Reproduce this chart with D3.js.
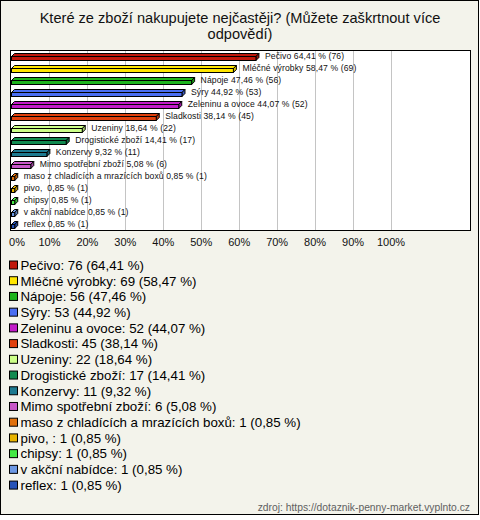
<!DOCTYPE html>
<html><head><meta charset="utf-8">
<script src="https://cdn.jsdelivr.net/npm/d3@7/dist/d3.min.js"></script>
<style>
html,body{margin:0;padding:0;background:#fff;}
svg text{font-family:"Liberation Sans",Arial,sans-serif;white-space:pre;}
</style></head>
<body><svg id="c" width="480" height="520"></svg>
<script>
const titleLines = ["Které ze zboží nakupujete nejčastěji? (Můžete zaškrtnout více", "odpovědí)"];
const categories = ["Pečivo","Mléčné výrobky","Nápoje","Sýry","Zeleninu a ovoce","Sladkosti","Uzeniny","Drogistické zboží","Konzervy","Mimo spotřební zboží","maso z chladících a mrazících boxů","pivo, ","chipsy","v akční nabídce","reflex"];
const counts = [76,69,56,53,52,45,22,17,11,6,1,1,1,1,1];
const percents = [64.41,58.47,47.46,44.92,44.07,38.14,18.64,14.41,9.32,5.08,0.85,0.85,0.85,0.85,0.85];
const colors = ["#c0180c","#ffe600","#1db41d","#4a6ef2","#c21cc8","#e0400c","#ccff88","#118a50","#1d7a90","#c858c8","#e0700c","#e8b400","#44e844","#6c98e4","#2552b8"];
const tickValues = [0,10,20,30,40,50,60,70,80,90,100];
const sourceText = "zdroj: https://dotaznik-penny-market.vyplnto.cz";

const svg = d3.select("#c");
const data = categories.map((c,i)=>({cat:c,count:counts[i],pct:percents[i],color:colors[i]}));
const fmt = v => v.toFixed(2).replace(".", ",");

// frame
svg.append("rect").attr("x",0.5).attr("y",0.5).attr("width",478).attr("height",514)
  .attr("fill","#f3f3eb").attr("stroke","#000");

// title
const t = svg.append("text").attr("x",240).attr("text-anchor","middle").attr("font-size",14.6).attr("fill","#111");
titleLines.forEach((l,i)=>t.append("tspan").attr("x",240).attr("y",23+i*15.5).text(l));

// plot
const plot = {l:10.5,t:50.5,r:470.5,b:230.5};
svg.append("rect").attr("x",plot.l).attr("y",plot.t).attr("width",plot.r-plot.l).attr("height",plot.b-plot.t).attr("fill","#fff");
const x = d3.scaleLinear().domain([0,100]).range([11.5,391]);
const y = d3.scaleBand().domain(categories).range([51,231]).padding(0);

svg.append("g").selectAll("line").data(tickValues.filter(v=>v>0)).join("line")
  .attr("x1",d=>Math.round(x(d))+0.5).attr("x2",d=>Math.round(x(d))+0.5)
  .attr("y1",plot.t).attr("y2",plot.b).attr("stroke","#c4c4c4");

svg.append("rect").attr("x",plot.l).attr("y",plot.t).attr("width",plot.r-plot.l).attr("height",plot.b-plot.t)
  .attr("fill","none").attr("stroke","#000");

const dpt = 3;
const bars = svg.append("g").selectAll("g").data(data).join("g");
bars.each(function(d){
  const g = d3.select(this);
  const x0 = x(0), x1 = x(d.pct);
  const c = y(d.cat)+y.bandwidth()/2;
  const yt = c-0.5, yb = c+3.5;
  const dark = d3.color(d.color).darker(0.6);
  g.append("polygon").attr("points",[[x0,yt],[x0+dpt,yt-dpt],[x1+dpt,yt-dpt],[x1,yt]].join(" "))
    .attr("fill",d.color).attr("stroke","#000").attr("stroke-width",1).attr("stroke-linejoin","round");
  g.append("polygon").attr("points",[[x1,yt],[x1+dpt,yt-dpt],[x1+dpt,yb-dpt],[x1,yb]].join(" "))
    .attr("fill",dark).attr("stroke","#000").attr("stroke-width",1).attr("stroke-linejoin","round");
  g.append("rect").attr("x",x0).attr("y",yt).attr("width",x1-x0).attr("height",yb-yt)
    .attr("fill",d.color).attr("stroke","#000").attr("stroke-width",1);
  g.append("text").attr("x",x1+dpt+6).attr("y",c-1.5).attr("dy","0.35em")
    .attr("font-size",8.6).attr("letter-spacing",0.1).attr("fill","#111")
    .text(`${d.cat} ${fmt(d.pct)} % (${d.count})`);
});

// axis labels
svg.append("g").selectAll("text").data(tickValues).join("text")
  .attr("x",d=>Math.max(x(d), 17)).attr("y",246).attr("text-anchor","middle")
  .attr("font-size",11).attr("fill","#111").text(d=>d+"%");

// legend
const lg = svg.append("g").selectAll("g").data(data).join("g")
  .attr("transform",(d,i)=>`translate(0,${265+i*15.72})`);
lg.append("rect").attr("x",9.5).attr("y",-4).attr("width",8).attr("height",8)
  .attr("fill",d=>d.color).attr("stroke","#000");
lg.append("text").attr("x",20.5).attr("y",0).attr("dy","0.36em").attr("font-size",13.3).attr("fill","#000")
  .text(d=>`${d.cat}: ${d.count} (${fmt(d.pct)} %)`);

svg.append("text").attr("x",470).attr("y",511).attr("text-anchor","end")
  .attr("font-size",10.3).attr("fill","#606060").text(sourceText);
</script></body></html>
